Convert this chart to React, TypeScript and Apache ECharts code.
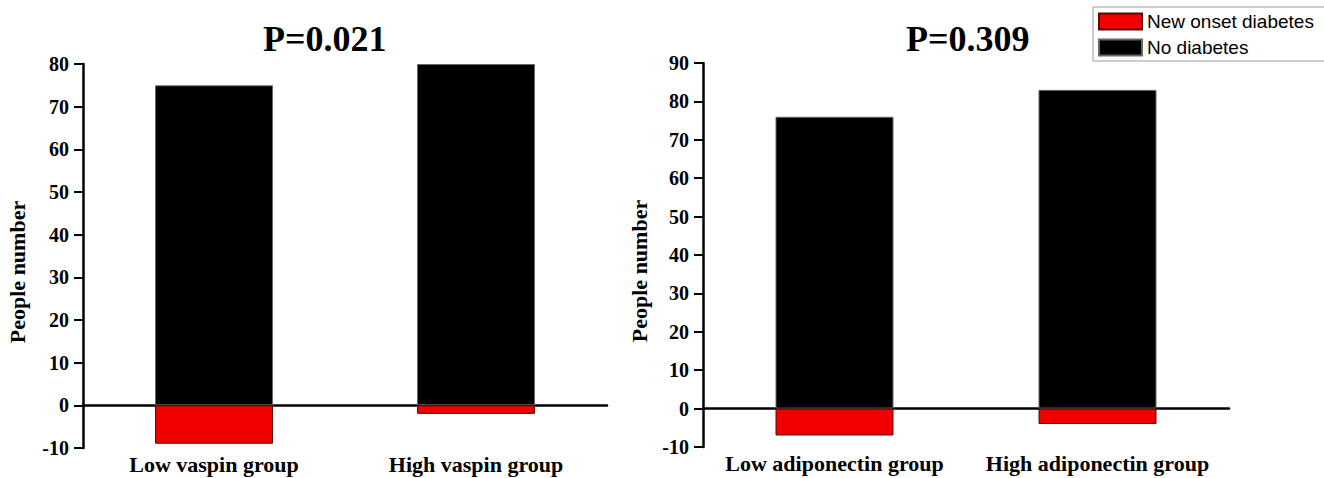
import React, { useEffect, useRef } from "react";
import * as echarts from "echarts";

const vaspinCategories = ["Low vaspin group", "High vaspin group"];
const vaspinNoDiabetes = [75, 80];
const vaspinNewOnset = [-9, -2];

const adipoCategories = ["Low adiponectin group", "High adiponectin group"];
const adipoNoDiabetes = [76, 83];
const adipoNewOnset = [-7, -4];

const titles = ["P=0.021", "P=0.309"];
const seriesNames = ["New onset diabetes", "No diabetes"];
const yAxisName = "People number";

const SERIF = "'Liberation Serif', 'Times New Roman', serif";
const SANS = "'Liberation Sans', Arial, sans-serif";
const RED = "#f20000";

export default function App() {
  const ref = useRef<HTMLDivElement>(null);

  useEffect(() => {
    document.body.style.margin = "0";
    const chart = echarts.init(ref.current!, null, { renderer: "svg" });

    const yAxisBase = (gridIndex: number, max: number, gap: number) => ({
      type: "value",
      gridIndex,
      min: -10,
      max,
      interval: 10,
      name: yAxisName,
      nameLocation: "middle",
      nameRotate: 90,
      nameGap: gap,
      nameTextStyle: {
        fontFamily: SERIF,
        fontWeight: "bold",
        fontSize: 22,
        color: "#000",
        padding: [0, 32, 0, 0],
      },
      axisLine: { show: true, onZero: false, lineStyle: { color: "#000", width: 2.5 } },
      axisTick: { show: true, inside: false, length: 9, lineStyle: { color: "#000", width: 2 } },
      axisLabel: {
        margin: 14,
        fontFamily: SERIF,
        fontWeight: "bold",
        fontSize: 20,
        color: "#000",
      },
      splitLine: { show: false },
    });

    const zeroAxis = (gridIndex: number, data: string[]) => ({
      type: "category",
      gridIndex,
      data,
      position: "bottom",
      axisLine: { show: true, onZero: true, lineStyle: { color: "#000", width: 2.5 } },
      axisTick: { show: false },
      axisLabel: { show: false },
      splitLine: { show: false },
    });

    const labelAxis = (gridIndex: number, data: string[]) => ({
      type: "category",
      gridIndex,
      data,
      position: "bottom",
      axisLine: { show: false, onZero: false },
      axisTick: { show: false },
      axisLabel: {
        margin: 5,
        fontFamily: SERIF,
        fontWeight: "bold",
        fontSize: 22,
        color: "#000",
        interval: 0,
      },
      splitLine: { show: false },
    });

    const barSeries = (
      name: string,
      data: number[],
      idx: number,
      color: string,
      border: string
    ) => ({
      type: "bar",
      name,
      data,
      xAxisIndex: idx * 2,
      yAxisIndex: idx,
      stack: "s" + idx,
      barWidth: 118,
      itemStyle: { color, borderColor: border, borderWidth: 1 },
    });

    const titleStyle = { fontFamily: SERIF, fontWeight: "bold", fontSize: 36, color: "#000" };

    chart.setOption({
      animation: false,
      backgroundColor: "#fff",
      title: [
        { text: titles[0], left: 263, top: 21, padding: 0, textStyle: titleStyle },
        { text: titles[1], left: 906, top: 21, padding: 0, textStyle: titleStyle },
      ],
      legend: {
        data: seriesNames,
        orient: "vertical",
        left: 1093,
        top: 7,
        itemWidth: 43,
        itemHeight: 16,
        itemGap: 7,
        padding: [5, 11, 4, 5],
        borderColor: "#999",
        borderWidth: 1,
        icon: "rect",
        selectedMode: false,
        textStyle: { fontFamily: SANS, fontSize: 19, color: "#000" },
      },
      grid: [
        { left: 83, top: 64, width: 524, height: 384, containLabel: false },
        { left: 703, top: 63, width: 526, height: 384, containLabel: false },
      ],
      xAxis: [
        zeroAxis(0, vaspinCategories),
        labelAxis(0, vaspinCategories),
        zeroAxis(1, adipoCategories),
        labelAxis(1, adipoCategories),
      ],
      yAxis: [yAxisBase(0, 80, 55), yAxisBase(1, 90, 53)],
      series: [
        barSeries(seriesNames[1], vaspinNoDiabetes, 0, "#000", "#666"),
        barSeries(seriesNames[0], vaspinNewOnset, 0, RED, "#5a0a0a"),
        barSeries(seriesNames[1], adipoNoDiabetes, 1, "#000", "#666"),
        barSeries(seriesNames[0], adipoNewOnset, 1, RED, "#5a0a0a"),
      ],
    });

    return () => chart.dispose();
  }, []);

  return <div ref={ref} style={{ width: 1324, height: 478 }} />;
}
